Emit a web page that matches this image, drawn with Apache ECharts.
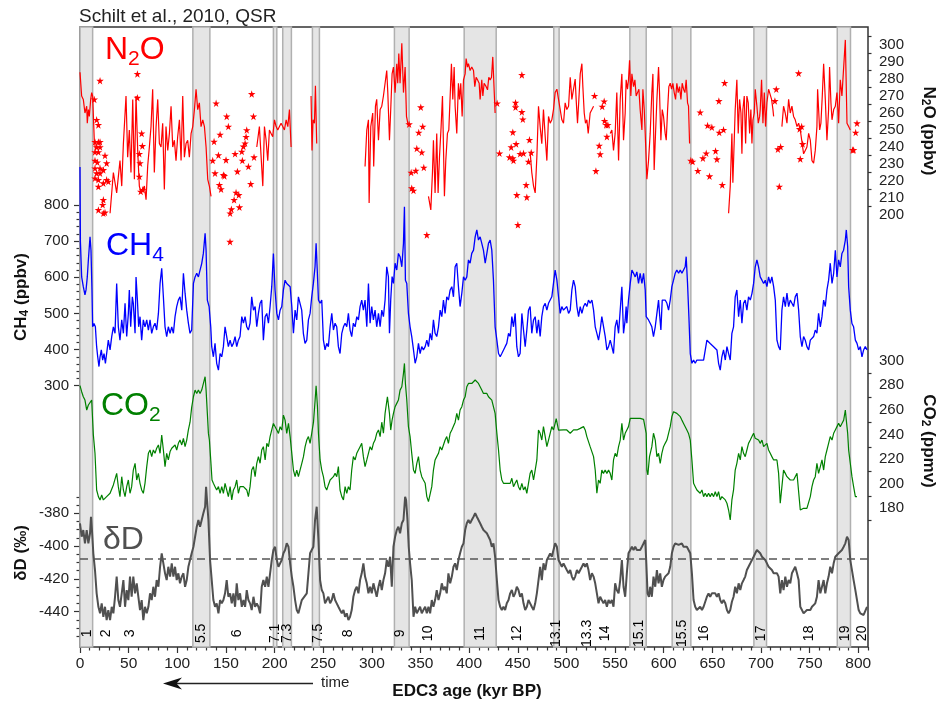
<!DOCTYPE html>
<html>
<head>
<meta charset="utf-8">
<script src="https://cdn.jsdelivr.net/npm/echarts@6.0.0/dist/echarts.min.js"></script>
<style>
  html, body { margin: 0; padding: 0; background: #fff; }
  #chart { width: 946px; height: 701px; }
</style>
</head>
<body>
<div id="chart"></div>
<script>
// ---------------- Data (age in kyr BP, value) ----------------
// N2O (ppbv) continuous sections
const n2oSeg1 = [[0,284],[1.7,270],[3.4,268],[5.1,260],[6.9,264],[7.5,254],[8.6,262],[9.6,258],[11,268],[12,272],[13,270],[14.7,244],[16.1,238]];
const n2oSeg2 = [[30.9,201],[34.3,225],[37.7,213],[41.1,232],[42.9,217],[44.6,242],[47.3,270],[49,234],[50.7,250],[52.4,225],[54.2,268],[55.9,221],[57.6,270],[59.3,238],[61,217],[62.7,213],[64.4,215],[66.2,217],[67.9,209],[69.6,229],[71.3,240],[73,252],[74.7,274],[76.4,225],[78.2,252],[79.9,268],[81.6,242],[83.3,240],[85,254],[86.7,215],[88.4,252],[90.2,238],[91.9,248],[93.6,264],[95.3,240],[97,244],[98.7,232],[100.4,246],[102.2,256],[103.9,232],[105.6,270],[107.3,234],[109,242],[110.7,244],[112.4,234],[114.2,248],[115.9,252],[117.6,262],[119.3,274],[121,262],[122.7,266],[124.4,252],[126.2,256],[127.9,252],[129.6,240],[131.3,221],[133,217],[134.7,211]];
const n2oSeg3 = [[181.7,240],[184.4,252],[187.9,217],[189.6,252],[191.3,244],[193,232],[194.7,250],[196.4,248],[198.1,246],[199.9,256],[201.6,252],[203.3,250],[205,252],[206.7,254],[208.4,252],[210.1,250],[211.9,256],[213.6,252],[215.3,262],[217,240]];
const n2oSeg4 = [[237.5,270],[238.5,238],[239.5,256],[241,254],[242,276],[243.3,242]];
const n2oSeg5 = [[293,228.5],[294.8,250],[296.5,256],[297.2,207],[298.9,252],[300.9,260],[301.9,228.5],[303.7,264],[305,268],[306.8,244],[308.5,262],[310.2,264],[311.9,270],[313.6,277.5],[315.3,285],[316.4,272],[318.1,244],[319.4,262],[320.8,283],[322.2,287],[323.9,272],[325.6,289],[326.6,277.5],[327.7,295],[329,277.5],[330.8,301],[332.5,272],[334.2,287],[335.6,258],[337.3,253],[338.6,254]];
const n2oSeg6 = [[358.2,211],[360.6,203],[362.3,225],[363.3,244],[365,213],[366.7,248],[368.1,213],[369.5,234],[371.2,252],[372.6,270],[374.6,211],[376,232],[377.7,248],[379.1,250],[380.5,270],[381.8,289],[383.2,268],[384.6,287],[385.6,264],[387.3,248],[389,277.5],[390.1,268],[391.4,277.5],[392.8,258],[394.2,279.5],[395.9,283],[396.9,292],[398.3,287],[399.3,289],[401,285],[402.7,287],[404.5,285],[405.8,275.5],[407.2,281],[408.6,279.5],[410.3,277.5],[411.3,268],[413,279.5],[414.1,270],[415.4,277.5],[417.5,275.5],[418.9,273.6],[420.2,281],[421.6,279.5],[423,281],[424.3,293],[425.7,273.6],[426.7,260]];
const n2oSeg7 = [[462.7,237],[464.4,225],[466.2,217],[467.9,213],[469.6,234],[471.3,264],[473,252],[474.7,242],[476.4,262],[478.2,246],[479.9,232],[481.6,258],[483.3,254],[485,256],[486.7,262],[488.4,272],[490.2,274],[491.9,268],[493.6,262],[495.3,256],[497,254],[498.7,266],[500.4,262],[502.2,264],[503.9,281],[505.6,268],[507.3,274],[509,280],[510,268],[511.4,254],[512.8,268],[514.2,283],[515.9,289],[516.9,275.5],[518.3,260],[519.6,254],[521,256],[522.4,248],[524.4,260],[526.2,262],[527.9,264]];
const n2oSeg8 = [[545,248],[546.7,250],[548.4,238],[550.1,248],[551.8,272],[553.6,232],[555.3,268],[557,283],[558.7,244],[560.4,260],[561.4,279.5],[562.8,274],[563.8,279.5],[564.9,291],[566.2,270],[567.3,283],[569,275.5],[570.4,279.5],[571.7,270],[573.1,272],[574.5,274],[575.8,262],[577.6,250],[578.6,274],[580,262],[581,248],[582.7,221],[584.4,232],[586.1,248],[587.8,272],[588.9,283],[590.2,226.5],[591.6,248],[593,268],[594.7,287],[595.7,272],[597.1,244],[598.5,262],[599.8,258],[601.5,248],[602.6,244],[604,262],[605.3,275.5],[606.7,277.5],[608.1,274],[609.4,277.5],[610.8,272],[612.2,268],[613.5,277.5],[614.9,272],[616.3,275.5],[617.7,268],[619,277.5],[620.4,274],[621.8,272],[623.1,279.5],[624.5,266],[625.5,264],[626.6,242]];
const n2oSeg9 = [[666.7,201],[668.4,217],[670.1,248],[671.1,219],[672.5,244],[673.5,262],[675.2,279.5],[676.6,248],[678,268],[679.4,260],[680.4,236],[681.4,262],[682.8,270],[684.2,242],[685.5,270],[686.9,266],[688.3,248],[689.6,262],[690.7,242],[691.7,256],[693.1,260],[694.1,274],[695.8,264],[697.2,254],[698.6,258],[699.2,262],[700.6,279.5],[702,254],[703.4,272],[704.7,252],[706.1,266],[707.8,274],[709.5,274],[710.9,268],[712.3,262],[713,258]];
const n2oSeg10 = [[721.5,252],[723.2,264],[724.9,260],[726.7,254],[728.4,268],[730.1,260],[731.8,264],[733.5,258],[735.2,256],[737,252],[738.7,254],[740.4,250],[742.1,250],[743.8,236],[745.5,238],[747.2,240],[749,248],[750.7,244],[752.4,232],[754.1,230.5],[755.8,238],[757.5,252],[758.2,274],[759.2,274],[760.3,250],[761.6,254],[763,270],[764.4,289],[766.1,268],[767.8,244],[769.5,262],[770.5,287],[771.9,266],[773,256],[774.7,262],[776.4,264],[778.1,272],[779.8,254],[781.5,279.5],[783.2,270],[785,270],[786.7,303],[788.4,254],[790.1,252],[791.8,250]];
const n2oSegments = [n2oSeg1, n2oSeg2, n2oSeg3, n2oSeg4, n2oSeg5, n2oSeg6, n2oSeg7, n2oSeg8, n2oSeg9, n2oSeg10];

// N2O (ppbv) samples flagged as artefacts
const n2oArtefacts = [[20.6,279],[59,283],[59,269],[14.7,268],[17.1,256],[18.9,253],[15.4,243],[18.9,243],[20.6,243],[17.1,240],[20.6,240],[15.4,237],[18.9,237],[25.7,235],[15.4,232],[17.8,231],[27.4,230.5],[15.4,227.5],[20.6,227.5],[24,226.5],[17.1,224.6],[20.6,224.6],[15.4,221.6],[18.9,220.7],[27.4,220.7],[24,218.7],[18.9,216.7],[29.1,219.7],[24,208.9],[18.9,203],[23.3,206],[25.7,201.5],[24,201],[63.4,248],[64.1,240.6],[61,236],[61.7,230.5],[61,222.6],[62.4,213.8],[64.4,214.8],[139.9,265.7],[150.8,258],[152.5,252],[144,247.3],[137.8,243.2],[142.3,235.2],[136.4,232],[150.1,232.4],[138.8,224.6],[147.4,223.6],[148.4,223],[143.3,217.7],[145,215.2],[159.4,236],[161.8,225.6],[166.9,232],[173.1,228.5],[175.5,218.3],[171.4,250],[170.7,246],[168,240.3],[169.7,242.2],[166.3,237.3],[176.5,271.2],[178.3,258],[178.9,234],[160.4,213.2],[163.2,211.8],[158.4,208.9],[163.9,204.6],[155.6,203.4],[154.3,201],[154.2,184.3],[350.3,263.4],[338.3,253.4],[352.3,252],[348.2,248.5],[346.2,239.1],[351.3,236.9],[353.4,227.9],[340.4,225],[345.2,226.1],[341,215.8],[342.8,214.4],[356.5,188.3],[454.2,282.4],[428.8,265.7],[447.7,266.1],[447.7,263.4],[454.2,260.6],[455.2,256.3],[444.9,248.7],[443.2,239.9],[448.3,241.8],[431.2,236.3],[441.5,234],[444.9,233.4],[445.6,232],[452.4,236],[455.9,236.3],[462,244.2],[463.8,236.7],[461,231.4],[458.6,217.7],[449,211.8],[459.3,210.5],[450.1,194.2],[528.9,270.1],[538.8,266.9],[536.8,263.8],[539.2,255.4],[540.9,253],[542.6,253],[541.6,246.1],[533.7,240.8],[534.7,235.8],[530.3,225.9],[637.5,260.4],[645.1,252.6],[649.5,251.6],[656.7,267.1],[662.6,277.7],[661.5,250.1],[657.1,248.5],[627.9,232],[629.7,231.4],[635.1,226],[640.3,233.4],[643.7,236.3],[647.1,222.8],[653.3,237.7],[654.7,232.8],[660.2,217.7],[715.7,274],[714.3,267.1],[717.4,238.7],[720.2,240.1],[718.8,216.7],[738.7,283.4],[741.8,252],[739.7,250.6],[742.8,241.8],[740.4,233],[797.3,248.5],[798.7,254],[794.2,238.3],[795.2,238.3]];

// CH4 (ppbv)
const ch4 = [[0,905],[0.4,700],[1.7,601],[3.4,574],[5.1,551],[6.2,565],[7.5,601],[8.6,648],[10.3,712],[11.3,675],[12.3,565],[13,463],[14.4,472],[15.8,463],[17.1,408],[18.2,380],[19.5,353],[20.6,380],[21.9,399],[23.3,371],[24.7,389],[26.1,362],[27.4,389],[29.1,426],[30.9,399],[32.6,436],[34.3,463],[36,445],[37.7,583],[39.4,463],[41.1,426],[42.9,482],[44.6,445],[46.3,528],[48,436],[49.7,500],[50.7,565],[52.1,463],[53.8,546],[54.8,528],[56.6,445],[57.6,601],[59,537],[60.3,463],[61.7,491],[63.4,426],[65.1,482],[66.8,463],[68.6,482],[70.3,454],[72,482],[73.7,445],[75.4,463],[77.1,473],[78.8,454],[80.6,500],[82.3,583],[84,625],[85.7,546],[87.4,463],[89.1,436],[90.8,463],[92.6,445],[94.3,463],[96,445],[97.7,491],[99.4,519],[101.1,537],[102.8,546],[104.6,509],[106.3,611],[108,556],[109.7,509],[111.4,473],[113.1,445],[114.8,454],[116.6,583],[118.3,601],[120,611],[121.7,601],[123.4,620],[125.1,638],[126.8,666],[128.6,722],[129.6,675],[130.9,537],[132.7,519],[134.4,463],[135.4,408],[137.1,380],[138.8,417],[140.5,362],[142.3,343],[144,389],[145.7,380],[147.4,408],[149.1,463],[150.8,436],[152.5,408],[154.3,426],[156,408],[157.7,417],[159.4,436],[161.1,408],[162.8,426],[164.5,436],[166.3,491],[168,473],[169.7,491],[171.4,463],[173.1,454],[174.8,473],[176.5,546],[178.3,509],[180,519],[181.7,463],[183.4,500],[185.1,528],[186.8,537],[188.5,426],[190.3,491],[192,500],[193.7,473],[195.4,519],[197.1,574],[198.8,666],[200.5,565],[202.3,500],[204,482],[205.7,509],[207.4,519],[209.1,565],[210.8,592],[212.5,583],[214.3,583],[216,574],[217.7,519],[219.4,445],[221.1,509],[222.8,482],[224.5,546],[226.2,551],[227.9,509],[229.6,445],[231.3,417],[233.1,426],[234.8,482],[236.5,500],[238.2,546],[239.9,583],[241.6,629],[242.7,694],[244,611],[245.1,537],[246.8,528],[248.5,537],[250.2,426],[251.9,399],[253.6,417],[255.3,408],[257.1,463],[258.8,500],[260.5,454],[262.2,473],[263.9,463],[265.6,408],[267.3,389],[269.1,445],[270.8,463],[272.5,473],[274.2,463],[275.9,500],[277.6,454],[279.3,436],[281,473],[282.8,463],[284.5,491],[286.2,482],[287.9,519],[289.6,537],[291.3,509],[293,537],[294.8,463],[296.5,583],[298.2,473],[299.9,519],[301.6,482],[303.3,509],[305,463],[306.8,500],[308.5,463],[310.2,509],[311.9,491],[313.6,537],[315.3,629],[317,602],[318.1,445],[319.4,537],[320.8,602],[322.2,583],[323.9,639],[325.6,620],[327.3,666],[329,657],[330.8,629],[332.5,694],[333.5,795],[334.5,592],[335.9,583],[337.6,500],[339.3,463],[341,436],[342.8,399],[344.5,362],[346.2,380],[347.9,417],[349.6,389],[351.3,408],[353,399],[354.8,408],[356.5,426],[358.2,408],[359.9,445],[361.6,426],[363.3,482],[365,445],[366.7,436],[368.5,463],[370.2,509],[371.9,491],[373.6,537],[375.3,500],[377,546],[378.7,537],[380.5,565],[382.2,574],[383.9,546],[385.6,629],[387.3,639],[389,574],[390.7,519],[392.5,556],[394.2,601],[395.9,592],[397.6,601],[399.3,648],[401,639],[402.7,666],[404.5,675],[406.2,712],[407.9,731],[409.6,703],[411.3,712],[413,694],[414.7,675],[416.5,639],[418.2,666],[419.9,694],[421.6,703],[423.3,675],[425,592],[426.7,463],[428.5,426],[430.2,389],[431.9,380],[433.6,389],[435.3,389],[437,408],[438.7,417],[440.5,445],[442.2,436],[443.9,491],[445.6,463],[447.3,500],[449,408],[450.7,380],[452.4,389],[454.2,500],[455.9,454],[457.6,408],[459.3,454],[461,509],[462.7,519],[464.4,445],[466.2,482],[467.9,491],[469.6,445],[471.3,482],[473,436],[474.7,491],[476.4,519],[478.2,528],[479.9,509],[481.6,528],[483.3,537],[485,546],[486.7,583],[488.4,620],[490.2,592],[491.9,546],[493.6,500],[495.3,519],[497,509],[498.7,509],[500.4,519],[502.2,500],[503.9,509],[505.6,565],[507.3,592],[509,574],[510.8,519],[512.5,491],[514.2,519],[515.9,500],[517.6,519],[519.3,528],[521,519],[522.7,537],[524.4,528],[526.2,537],[527.9,509],[529.6,463],[531.3,445],[533,426],[534.7,454],[536.4,491],[538.1,496],[539.9,436],[541.6,399],[543.3,408],[545,426],[546.7,408],[548.4,389],[550.1,463],[551.8,482],[553.6,445],[555.3,509],[557,574],[558.7,445],[560.4,482],[561.4,519],[562.1,473],[563.8,537],[565.6,583],[567.3,620],[569,611],[570.7,601],[572.4,615],[574.1,583],[575.8,611],[577.6,583],[579.3,611],[581,565],[582,491],[584.4,482],[586.1,473],[587.8,463],[589.5,436],[591.3,463],[593,500],[594.7,537],[595.7,500],[597.1,454],[598.5,537],[599.8,537],[601.5,537],[603.3,528],[605,509],[606.7,537],[608.4,574],[610.1,592],[611.8,611],[613.5,620],[615.3,611],[617,620],[618.7,611],[620.4,620],[622.1,629],[623.1,657],[624.5,583],[625.9,491],[627.3,389],[629,362],[630.7,371],[632.4,362],[634.1,371],[635.8,366],[637.5,371],[639.2,366],[641,371],[642.7,371],[644.4,426],[646.1,426],[647.8,417],[649.5,417],[651.3,408],[653,408],[654.7,399],[656.4,362],[658.1,343],[659.8,380],[661.5,399],[663.3,371],[665,408],[666.7,389],[668.4,371],[670.1,445],[671.8,463],[673.5,546],[675.2,565],[677,491],[678.7,537],[680.4,473],[682.1,528],[683.8,537],[685.5,509],[687.2,546],[689,537],[690.7,555],[692.4,583],[694.1,629],[695.8,648],[697.5,629],[699.2,601],[701,592],[702.7,583],[704.4,592],[706.1,574],[707.8,601],[709.5,583],[711.2,601],[713,574],[714.7,537],[716.4,426],[718.1,408],[719.8,399],[721.5,509],[723.2,546],[725,519],[726.7,556],[728.4,519],[730.1,537],[731.8,528],[733.5,519],[735.2,546],[737,556],[738.7,509],[740.4,436],[742.1,408],[743.8,436],[745.5,426],[747.2,408],[749,399],[750.7,426],[752.4,426],[754.1,436],[755.8,454],[757.5,445],[759.2,500],[761,463],[762.7,491],[764.4,537],[766.1,519],[767.8,565],[769.5,592],[771.2,639],[773,583],[774.7,611],[776.4,675],[778.1,601],[779.8,648],[781.5,629],[783.2,666],[784.9,675],[786.7,703],[787.7,731],[789.1,685],[790.1,574],[791.8,509],[793.5,472],[795.2,463],[797,426],[798.7,417],[800.4,399],[802.1,408],[803.8,380],[805.5,399],[807.2,408],[809,399]];

// CO2 (ppmv)
const co2 = [[0,279.7],[1.7,274.8],[3.4,270.7],[5.1,268],[6.9,259.9],[8.6,264],[10.3,262.6],[12,268],[13.7,240],[15.4,224.7],[17.1,194.9],[18.9,189.5],[20.6,186.8],[22.3,190.8],[24,186.8],[27.4,189.5],[30.9,192.2],[34.3,199],[37.7,208.4],[39.4,197.6],[41.1,189.5],[42.9,205.7],[44.6,194.9],[46.3,189.5],[48,197.6],[49.7,203],[51.4,192.2],[53.1,197.6],[54.8,211.1],[56.6,216.6],[58.3,203],[60,208.4],[61.7,200.3],[63.4,194.9],[65.1,192.2],[66.8,200.3],[68.6,213.9],[70.3,224.7],[72,227.4],[73.7,222],[75.4,227.4],[77.1,224.7],[78.8,228.8],[80.6,231.5],[82.3,224.7],[84,239.6],[85.7,227.4],[87.4,213.9],[89.1,224.7],[90.8,219.3],[92.6,226.1],[94.3,228.8],[96,230.1],[97.7,231.5],[99.4,227.4],[101.1,232.8],[102.8,235.5],[104.6,231.5],[106.3,236.9],[108,230.1],[109.7,235.5],[111.4,243.7],[113.1,250],[114.8,262],[116.6,270.7],[118.3,276.1],[120,273.4],[121.7,276.1],[123.4,273.4],[125.1,276.1],[126.8,277.5],[128.6,287],[129.6,276.1],[130.9,257.2],[132,240.9],[133,235.5],[134.4,219.3],[135.7,203],[137.1,200.3],[138.8,197.6],[140.5,194.9],[142.3,197.6],[144,192.2],[145.7,197.6],[147.4,192.2],[149.1,200.3],[150.8,194.9],[152.5,189.5],[154.3,197.6],[156,186.8],[157.7,194.9],[159.4,197.6],[161.1,203],[162.8,192.2],[164.5,197.6],[168,197.6],[171.4,194.9],[173.1,189.5],[174.8,197.6],[176.5,211.1],[178.3,213.9],[180,205.7],[181.7,216.6],[183.4,222],[185.1,216.6],[186.8,227.4],[188.5,230.1],[190.3,219.3],[192,232.8],[193.7,230.1],[195.4,238.3],[197.1,243.7],[198.8,249],[200.5,250.4],[202.3,243.6],[204,240.9],[205.7,246.3],[207.4,243.6],[209.1,255.8],[210.8,251.7],[212.5,240.9],[214.3,249],[216,238.3],[217.7,224.7],[219.4,211.1],[221.1,205.7],[222.8,211.1],[224.5,205.7],[226.2,211.1],[228,216.6],[229.7,222],[231.4,230.1],[233.1,235.5],[234.8,238.3],[236.5,232.8],[238.2,241],[240,250],[241.7,268],[242.7,279.7],[244.1,262.6],[245.1,241],[246.8,219.3],[248.5,211.1],[250.2,205.7],[251.9,197.6],[253.6,194.9],[255.3,199],[257.1,203],[258.8,201.7],[260.5,205.7],[262.2,208.4],[263.9,205.7],[265.6,213.9],[267.3,194.9],[269.1,189.5],[270.8,186.8],[272.5,197.6],[274.2,192.2],[275.9,197.6],[277.6,194.9],[279.3,211.1],[281,222],[282.8,219.3],[284.5,224.7],[286.2,227.4],[287.9,230.1],[289.6,232.8],[291.3,222],[293,213.9],[294.8,219.3],[296.5,224.7],[298.2,230.1],[299.9,227.4],[301.6,232.8],[303.3,235.5],[305,241],[306.8,243.7],[308.5,238.3],[310.2,250],[311.9,241],[313.6,257.2],[316,270.7],[318.1,257.2],[319.4,243.6],[320.8,251.7],[322.2,257.2],[323.9,262.6],[325.6,265.3],[327.3,268],[329,276.1],[330.8,278.8],[332.5,289.7],[333.5,297.8],[334.5,281.5],[335.9,268],[337.6,246.3],[339.3,238.3],[341,224.7],[342.8,211.1],[344.5,208.4],[346.2,216.6],[347.9,222],[349.6,211.1],[351.3,205.7],[353,203],[354.8,200.3],[356.5,189.5],[358.2,185.4],[359.9,186.8],[361.6,197.6],[363.3,211.1],[365,219.3],[366.7,222],[368.5,224.7],[370.2,230.1],[371.9,227.4],[373.6,231.5],[375.3,235.5],[377,238.3],[378.7,232.8],[380.5,241],[382.2,243.7],[383.9,245],[385.6,250],[387.3,257.2],[389,251.7],[390.7,259.9],[392.5,262.6],[394.2,268],[395.9,270.7],[397.6,278.8],[399.3,281.5],[401,282.9],[402.7,281.5],[404.5,282.9],[406.2,284.3],[407.9,284.3],[409.6,281.5],[411.3,278.8],[413,276.1],[414.7,273.4],[416.5,274.8],[418.2,273.4],[419.9,270.7],[421.6,270.7],[423.3,268],[425,268],[426.7,257.2],[428.5,240.9],[430.2,227.4],[431.9,211.1],[433.6,203],[435.3,200.3],[437,201.7],[438.7,200.3],[440.5,201.7],[442.2,200.3],[443.9,204.4],[445.6,197.6],[447.3,200.3],[449,203],[450.7,197.6],[452.4,194.9],[454.2,200.3],[455.9,194.9],[457.6,197.6],[459.3,192.2],[461,200.3],[462.7,208.4],[464.4,211.1],[466.2,203],[467.9,211.1],[469.6,219.3],[471.3,243.7],[473,241],[474.7,235.5],[476.4,246.4],[478.2,238.3],[479.9,230.1],[481.6,235.5],[483.3,241],[485,246.4],[486.7,243.7],[488.4,249.1],[489.5,253],[491.9,243.6],[493.6,243],[497,243.7],[500.4,243.7],[503.9,241],[507.3,243.7],[510.8,243.7],[514.2,245],[515.9,246.4],[517.6,246.4],[519.3,243.7],[521,238.3],[524.4,230.1],[527.9,222],[529.6,211.1],[531.3,192.2],[533,203],[534.7,200.3],[536.4,211.1],[538.1,208.4],[539.8,211.1],[541.6,208.4],[543.3,211.1],[545,208.4],[546.7,203],[548.4,219.3],[550.1,224.7],[551.8,222],[553.6,230.1],[555.3,235.5],[557,249.1],[558.7,235.5],[560.4,241],[562.1,243.7],[563.8,246.4],[565.6,253.1],[567.3,254.5],[569,253.1],[570.7,251.7],[572.4,253.1],[574.1,251.7],[575.8,253.1],[577.6,251.7],[579.3,252.3],[581,251.7],[582,240.9],[582.7,211.1],[583.7,207.1],[585.4,222],[587.8,230.1],[589.5,241],[591.3,235.5],[593,222],[594.7,224.7],[596.4,216.6],[598.1,224.7],[599.8,230.1],[601.5,232.8],[603.3,235.5],[605,241],[606.7,246.4],[608.4,254.5],[610.1,258.5],[611.8,258.5],[613.5,257.2],[615.3,255.8],[617,254.5],[618.7,251.7],[620.4,249],[622.1,246.3],[623.8,243.6],[625.5,240.9],[627.3,235.5],[629,219.3],[630.7,200.3],[632.4,197.6],[634.1,194.9],[635.8,193.5],[637.5,192.2],[639.3,194.9],[641,189.5],[642.7,192.2],[644.4,189.5],[646.1,192.2],[647.8,189.5],[649.5,192.2],[651.3,189.5],[653,193.5],[654.7,189.5],[656.4,193.5],[658.1,186.8],[659.8,189.5],[661.5,188.1],[663.3,186.8],[665,184.1],[666.7,178.6],[668.4,170.5],[670.1,186.8],[671.8,194.9],[673.5,211.1],[675.2,216.6],[677,224.7],[678.7,219.3],[680.4,230.1],[682.1,224.7],[683.8,222],[685.5,227.4],[687.2,232.8],[689,235.5],[690.7,238.3],[692.4,241],[694.1,236.9],[695.8,238.3],[697.5,235.5],[699.2,232.8],[701,235.5],[702.7,230.1],[704.4,231.5],[706.1,232.8],[707.8,227.4],[709.5,224.7],[711.2,222],[713,219.3],[714.7,220.6],[716.4,219.3],[718.1,208.4],[719.8,184.1],[721.5,197.6],[723.2,211.1],[725,208.4],[726.7,205.7],[728.4,204.4],[730.1,203],[731.8,204.4],[733.5,203],[735.2,205.7],[737,208.4],[738.7,209.8],[740.4,178.6],[742.1,177.3],[743.8,180],[745.5,180],[747.2,180],[749,181.3],[750.7,189.5],[752.4,197.6],[754.1,203],[755.8,205.7],[757.5,216.6],[759.2,208.4],[761,213.9],[762.7,219.3],[764.4,211.1],[766.1,222],[767.8,227.4],[769.5,232.8],[771.2,238.3],[773,235.5],[774.7,241],[776.4,243.7],[778.1,246.4],[779.8,249.1],[781.5,246.3],[783.2,249],[785,251.7],[786.7,259.9],[787.7,251.7],[789.1,240.9],[790.1,227.4],[791.8,216.6],[793.5,205.7],[795.2,197.6],[797,189.5],[798.7,189.5]];

// deltaD (permil)
const deltaD = [[0,-386.1],[1.7,-394.3],[3.4,-390.2],[5.1,-398.3],[6.9,-390.2],[8.6,-398.3],[10.3,-392.2],[11.3,-382.1],[12.3,-390.2],[13.7,-404.4],[15.4,-414.6],[17.1,-428.8],[18.9,-437],[20.6,-441],[22.3,-434.9],[24,-443.1],[25.7,-437],[27.4,-445.1],[29.1,-439],[30.9,-445.1],[32.6,-437],[34.3,-441],[36,-430.9],[37.7,-418.6],[39.4,-432.9],[41.1,-437],[42.9,-428.8],[44.6,-420.7],[46.3,-437],[48,-426.8],[49.7,-432.9],[51.4,-418.6],[53.1,-430.9],[54.8,-418.6],[56.6,-428.8],[58.3,-422.7],[60,-430.9],[61.7,-439],[63.4,-432.9],[65.1,-445.1],[66.8,-437],[68.6,-441],[70.3,-437],[72,-428.8],[73.7,-432.9],[75.4,-424.8],[77.1,-430.9],[78.8,-420.7],[80.6,-424.8],[82.3,-412.6],[84,-404.4],[85.7,-410.5],[87.4,-416.6],[89.1,-420.7],[90.8,-412.6],[92.6,-418.6],[94.3,-410.5],[96,-418.6],[97.7,-412.6],[99.4,-420.7],[101.1,-416.6],[102.8,-422.7],[104.6,-418.6],[106.3,-416.6],[108,-424.8],[109.7,-420.7],[111.4,-412.6],[113.1,-408.5],[114.8,-404.4],[116.6,-400.4],[118.3,-394.3],[120,-388.2],[121.7,-384.1],[123.4,-388.2],[125.1,-384.1],[126.8,-380],[128.6,-376],[129.6,-363.8],[130.3,-369.9],[132,-384.1],[133.7,-408.5],[135.4,-420.7],[137.1,-432.9],[138.8,-437],[140.5,-434.9],[142.3,-441],[144,-432.9],[145.7,-434.9],[147.4,-432.9],[149.1,-428.8],[150.8,-420.7],[152.5,-430.9],[154.3,-428.8],[156,-434.9],[157.7,-428.8],[159.4,-437],[161.1,-422.7],[162.8,-432.9],[164.5,-428.8],[166.3,-437],[168,-432.9],[169.7,-437],[171.4,-426.8],[173.1,-432.9],[174.8,-434.9],[176.5,-439],[178.3,-430.9],[180,-437],[181.7,-434.9],[183.4,-437],[185.1,-441],[186.8,-424.8],[188.5,-420.7],[190.3,-424.8],[192,-418.6],[193.7,-424.8],[195.4,-416.6],[197.1,-408.5],[198.8,-402.4],[200.5,-400.4],[202.3,-408.5],[204,-412.6],[205.7,-410.5],[207.4,-408.5],[209.1,-404.4],[210.8,-402.4],[212.5,-398.3],[214.3,-400.4],[216,-410.5],[217.7,-418.6],[219.4,-424.8],[221.1,-432.9],[222.8,-439],[224.5,-441],[226.2,-437],[228,-432.9],[233.1,-428.8],[236.5,-404.4],[239.9,-400.4],[241.6,-384.1],[243.3,-376],[245.1,-396.3],[246.8,-420.7],[248.5,-426.8],[250.2,-428.8],[251.9,-434.9],[253.6,-432.9],[255.3,-430.9],[257.1,-434.9],[258.8,-432.9],[260.5,-428.8],[262.2,-432.9],[263.9,-434.9],[265.6,-437],[267.3,-439],[269.1,-441],[270.8,-439],[272.5,-443.1],[274.2,-441],[275.9,-445.1],[277.6,-443.1],[279.3,-439],[281,-430.9],[282.8,-426.8],[284.5,-424.8],[286.2,-428.8],[287.9,-420.7],[289.6,-416.6],[291.3,-410.5],[293,-418.6],[294.8,-422.7],[296.5,-428.8],[298.2,-424.8],[299.9,-428.8],[301.6,-422.7],[303.3,-426.8],[305,-430.9],[306.8,-424.8],[308.5,-420.7],[310.2,-426.8],[311.9,-420.7],[313.6,-416.6],[315.3,-408.5],[317,-412.6],[318.8,-406.5],[320.5,-424.8],[322.2,-400.4],[323.9,-394.3],[325.6,-390.2],[327.3,-388.2],[329,-392.2],[330.8,-386.1],[332.5,-384.1],[334.2,-369.9],[335.2,-371.9],[336.6,-384.1],[337.9,-400.4],[339.3,-410.5],[341,-420.7],[342.8,-443.1],[344.5,-437],[346.2,-441],[347.9,-439],[349.6,-437],[351.3,-441],[353,-439],[354.8,-437],[356.5,-441],[358.2,-437],[359.9,-441],[361.6,-432.9],[363.3,-437],[365,-432.9],[366.7,-426.8],[368.5,-432.9],[370.2,-428.8],[371.9,-422.7],[373.6,-426.8],[375.3,-424.8],[377,-428.8],[378.7,-416.6],[380.5,-422.7],[382.2,-418.6],[383.9,-412.6],[385.6,-410.5],[387.3,-414.6],[389,-408.5],[390.7,-404.4],[392.5,-400.4],[394.2,-398.3],[395.9,-390.2],[397.6,-386.1],[399.3,-384.1],[401,-386.1],[402.7,-384.1],[404.5,-382.1],[406.2,-380],[407.9,-382.1],[409.6,-384.1],[411.3,-386.1],[413,-388.2],[414.7,-390.2],[416.5,-390.2],[418.2,-392.2],[419.9,-392.2],[421.6,-396.3],[423.3,-400.4],[425,-398.3],[426.7,-406.5],[428.5,-420.7],[430.2,-432.9],[431.9,-437],[433.6,-439],[435.3,-437],[437,-439],[438.7,-434.9],[440.5,-432.9],[442.2,-428.8],[443.9,-426.8],[445.6,-430.9],[447.3,-428.8],[449,-424.8],[450.7,-426.8],[452.4,-430.9],[454.2,-428.8],[455.9,-434.9],[457.6,-439],[459.3,-437],[461,-432.9],[462.7,-434.9],[464.4,-437],[466.2,-439],[467.9,-434.9],[469.6,-428.8],[471.3,-420.7],[473,-412.6],[474.7,-420.7],[476.4,-410.5],[478.2,-414.6],[479.9,-408.5],[481.6,-406.5],[483.3,-404.4],[485,-406.5],[486.7,-402.4],[488.4,-398.3],[490.2,-400.4],[491.9,-408.5],[493.6,-410.5],[495.3,-412.6],[497,-410.5],[498.7,-412.6],[500.4,-414.6],[502.2,-416.6],[503.9,-414.6],[505.6,-418.6],[507.3,-420.7],[509,-418.6],[510.8,-414.6],[512.5,-416.6],[514.2,-414.6],[515.9,-412.6],[517.6,-410.5],[519.3,-412.6],[521,-410.5],[522.7,-414.6],[524.4,-420.7],[526.2,-416.6],[527.9,-418.6],[529.6,-422.7],[531.3,-428.8],[533,-434.9],[534.7,-430.9],[538.1,-434.9],[539.8,-432.9],[541.6,-437],[543.3,-432.9],[545,-434.9],[546.7,-432.9],[548.4,-437],[550.1,-422.7],[551.8,-426.8],[553.6,-428.8],[555.3,-420.7],[557,-408.5],[558.7,-424.8],[560.4,-430.9],[562.1,-416.6],[563.8,-404.4],[565.6,-402.4],[567.3,-400.4],[569,-402.4],[570.7,-400.4],[572.4,-402.4],[574.1,-401.4],[575.8,-402.4],[577.6,-400.4],[579.3,-398.3],[581,-396.3],[582,-408.5],[583.4,-428.8],[584.8,-430.9],[586.1,-424.8],[587.8,-430.9],[589.5,-418.6],[591.3,-424.8],[593,-414.6],[594.7,-422.7],[596.4,-416.6],[598.1,-424.8],[599.8,-420.7],[601.5,-418.6],[603.3,-418.6],[605,-416.6],[606.7,-412.6],[608.4,-404.4],[610.1,-400.4],[611.8,-398.3],[613.5,-397.3],[615.3,-399.3],[617,-400.4],[618.7,-398.3],[620.4,-400.4],[622.1,-401.4],[623.8,-400.4],[625.5,-401.4],[627.3,-404.4],[629,-416.6],[630.7,-432.9],[632.4,-437],[634.1,-439],[635.8,-439],[637.5,-437],[639.3,-439],[641,-437],[642.7,-437],[644.4,-430.9],[646.1,-428.8],[647.8,-430.9],[649.5,-428.8],[651.3,-429.8],[653,-428.8],[654.7,-430.9],[656.4,-428.8],[658.1,-432.9],[659.8,-434.9],[661.5,-432.9],[663.3,-434.9],[665,-439],[666.7,-441],[668.4,-439],[670.1,-433.9],[671.8,-430.9],[673.5,-424.8],[675.2,-428.8],[677,-422.7],[678.7,-426.8],[680.4,-422.7],[682.1,-420.7],[683.8,-418.6],[685.5,-414.6],[687.2,-412.6],[689,-410.5],[690.7,-408.5],[692.4,-406.5],[694.1,-404.4],[695.8,-402.4],[697.5,-403.4],[699.2,-404.4],[701,-406.5],[702.7,-405.4],[704.4,-408.5],[706.1,-410.5],[707.8,-412.6],[709.5,-412.6],[711.2,-414.6],[713,-416.6],[714.7,-415.6],[716.4,-416.6],[718.1,-418.6],[719.8,-428.8],[721.5,-420.7],[723.2,-426.8],[725,-418.6],[726.7,-424.8],[728.4,-420.7],[730.1,-422.7],[731.8,-416.6],[733.5,-414.6],[735.2,-412.6],[737,-416.6],[738.7,-420.7],[740.4,-437],[742.1,-439],[743.8,-441],[745.5,-440],[747.2,-439],[749,-440],[750.7,-439],[752.4,-437],[754.1,-437],[755.8,-434.9],[757.5,-430.9],[759.2,-420.7],[761,-428.8],[762.7,-424.8],[764.4,-420.7],[766.1,-428.8],[767.8,-422.7],[769.5,-418.6],[771.2,-412.6],[773,-416.6],[774.7,-410.5],[776.4,-406.5],[778.1,-406.5],[779.8,-404.4],[781.5,-404.4],[783.2,-402.4],[785,-400.4],[786.7,-398.3],[788.4,-394.3],[790.1,-396.3],[791.8,-408.5],[793.5,-414.6],[795.2,-420.7],[797,-426.8],[798.7,-432.9],[800.4,-439],[802.1,-441],[803.8,-440],[805.5,-442],[807.2,-441],[809,-437]];

// Interglacial intervals (kyr BP) and marine isotope stage labels
const interglacials = [[0,13],[116,133.5],[198.8,202.3],[208.4,217.3],[238.9,246.1],[323.2,338.3],[394.9,427.8],[487,492.5],[565.2,582],[608.7,627.9],[692.7,705.7],[778.4,792]];
const stageNames = ['1','2','3','5.5','6','7.1','7.3','7.5','8','9','10','11','12','13.1','13.3','14','15.1','15.5','16','17','18','19','20'];
const stageAges = [7.5,26.7,51.4,125,161.7,200.8,213.2,245,276,329,358,411,449,489.5,521,539.5,575,618.7,641.6,700.3,750,786.6,803.8];
const deltaDReference = -408;

// Axis ticks and labels
const ageTicks = [0,50,100,150,200,250,300,350,400,450,500,550,600,650,700,750,800];
const n2oTicks = [200,210,220,230,240,250,260,270,280,290,300];
const ch4Ticks = [300,400,500,600,700,800];
const co2Ticks = [180,200,220,240,260,280,300];
const deltaDTicks = [-440,-420,-400,-380];

// ---------------- Helpers ----------------
const FONT = '"Liberation Sans", Arial, sans-serif';
function stepList(from, to, step, skip) {
  const out = [];
  for (let v = from; v <= to + 1e-9; v += step) {
    const r = Math.round(v * 100) / 100;
    if (!skip.includes(r)) out.push(r);
  }
  return out;
}
const ageMinor = stepList(0, 810, 10, ageTicks);
const n2oMinor = stepList(205, 305, 10, n2oTicks);
const ch4Minor = stepList(300, 800, 20, ch4Ticks);
const co2Minor = stepList(170, 290, 20, co2Ticks);
const deltaDMinor = stepList(-455, -370, 5, deltaDTicks);

const measureCtx = document.createElement('canvas').getContext('2d');
function textWidth(t, size, weight) {
  measureCtx.font = (weight || 'normal') + ' ' + size + 'px ' + FONT;
  return measureCtx.measureText(t).width;
}
// Text with subscript parts, laid out horizontally inside a (possibly rotated) group
function subscriptText(parts, o) {
  const widths = parts.map(p => textWidth(p[0], p[1] ? o.sub : o.size, o.weight));
  const total = widths.reduce((a, b) => a + b, 0);
  let x = o.center ? -total / 2 : 0;
  const children = parts.map((p, i) => {
    const el = {
      type: 'text', x: x, y: p[1] ? o.subDy : 0,
      style: {
        text: p[0], fill: o.color, fontFamily: FONT,
        fontSize: p[1] ? o.sub : o.size, fontWeight: o.weight || 'normal',
        align: 'left', verticalAlign: 'middle'
      }
    };
    x += widths[i];
    return el;
  });
  return { type: 'group', x: o.x, y: o.y, rotation: o.rotation || 0, children: children, z: 20 };
}

const tickLine = { color: '#333', width: 1.2 };
function yAxisPair(gridIndex, min, max, position, major, minor) {
  const base = {
    type: 'value', gridIndex: gridIndex, min: min, max: max, position: position,
    axisLine: { show: false }, splitLine: { show: false }
  };
  return [
    Object.assign({}, base, {
      axisTick: { show: true, customValues: major, length: 6, lineStyle: tickLine },
      axisLabel: { show: true, customValues: major, fontSize: 15, color: '#222', fontFamily: FONT, margin: 11 }
    }),
    Object.assign({}, base, {
      axisTick: { show: true, customValues: minor, length: 3.5, lineStyle: tickLine },
      axisLabel: { show: false }
    })
  ];
}

const GL = 80, GW = 788;
const grids = [
  { left: GL, width: GW, top: 27, height: 620, show: true, borderColor: '#333', borderWidth: 1.5, backgroundColor: 'transparent', outerBoundsMode: 'none' },
  { left: GL, width: GW, top: 28, height: 221, outerBoundsMode: 'none' },       // N2O 180..310
  { left: GL, width: GW, top: 205, height: 180.7, outerBoundsMode: 'none' },    // CH4 300..800
  { left: GL, width: GW, top: 348.4, height: 184.5, outerBoundsMode: 'none' },  // CO2 160..310
  { left: GL, width: GW, top: 480.5, height: 164, outerBoundsMode: 'none' }     // dD -460..-360
];

const xAxes = [
  {
    type: 'value', gridIndex: 0, min: 0, max: 810, position: 'bottom',
    axisLine: { show: false }, splitLine: { show: false },
    axisTick: { show: true, customValues: ageTicks, length: 6, lineStyle: tickLine },
    axisLabel: { customValues: ageTicks, fontSize: 15.5, color: '#222', fontFamily: FONT, margin: 9 }
  },
  {
    type: 'value', gridIndex: 0, min: 0, max: 810, position: 'bottom',
    axisLine: { show: false }, splitLine: { show: false },
    axisTick: { show: true, customValues: ageMinor, length: 3.5, lineStyle: tickLine },
    axisLabel: { show: false }
  }
];
for (let g = 1; g <= 4; g++) xAxes.push({ type: 'value', gridIndex: g, min: 0, max: 810, show: false });

const yAxes = [{ type: 'value', gridIndex: 0, min: 0, max: 1, show: false }]
  .concat(yAxisPair(1, 180, 310, 'right', n2oTicks, n2oMinor))      // 1,2
  .concat(yAxisPair(2, 300, 800, 'left', ch4Ticks, ch4Minor))       // 3,4
  .concat(yAxisPair(3, 160, 310, 'right', co2Ticks, co2Minor))      // 5,6
  .concat(yAxisPair(4, -460, -360, 'left', deltaDTicks, deltaDMinor)); // 7,8

const STAR = 'path://M50,0 L61,35 L98,35 L68,57 L79,91 L50,70 L21,91 L32,57 L2,35 L39,35 Z';

const series = [];
// Interglacial shading
series.push({
  type: 'line', xAxisIndex: 0, yAxisIndex: 0, data: [], z: 1, silent: true,
  markArea: {
    silent: true,
    itemStyle: { color: '#e5e5e5', borderColor: '#b0b0b0', borderWidth: 1.5 },
    data: interglacials.map(b => [{ xAxis: b[0] }, { xAxis: b[1] }])
  }
});
// Stage numbers
series.push({
  type: 'scatter', xAxisIndex: 0, yAxisIndex: 0, z: 6, silent: true,
  symbolSize: 0, itemStyle: { opacity: 1 },
  data: stageAges.map((a, i) => ({ value: [a, 0.022], name: stageNames[i] })),
  label: {
    show: true, position: 'inside', formatter: p => p.name, rotate: 90,
    align: 'center', verticalAlign: 'middle', opacity: 1,
    fontSize: 14, color: '#000', fontFamily: FONT, textBorderWidth: 0
  }
});
// N2O
n2oSegments.forEach(seg => series.push({
  type: 'line', xAxisIndex: 2, yAxisIndex: 1, data: seg, showSymbol: false, symbol: 'none',
  clip: false, z: 3, lineStyle: { color: '#ff0000', width: 1.2 }
}));
series.push({
  type: 'scatter', xAxisIndex: 2, yAxisIndex: 1, data: n2oArtefacts, clip: false, z: 3,
  symbol: STAR, symbolSize: 7.5, itemStyle: { color: '#ff0000', opacity: 1 }
});
// CH4
series.push({
  type: 'line', xAxisIndex: 3, yAxisIndex: 3, data: ch4, symbol: 'none', clip: false, z: 3,
  lineStyle: { color: '#0000ff', width: 1.3 }
});
// CO2
series.push({
  type: 'line', xAxisIndex: 4, yAxisIndex: 5, data: co2, symbol: 'none', clip: false, z: 3,
  lineStyle: { color: '#008000', width: 1.2 }
});
// deltaD with glacial/interglacial threshold
series.push({
  type: 'line', xAxisIndex: 5, yAxisIndex: 7, data: deltaD, symbol: 'none', clip: false, z: 3,
  lineStyle: { color: '#505050', width: 2 },
  markLine: {
    silent: true, symbol: 'none', label: { show: false },
    lineStyle: { color: '#555', width: 1.5, type: [8, 5] },
    data: [{ yAxis: deltaDReference }]
  }
});

const graphics = [
  { type: 'text', x: 79, y: 17, z: 20, style: { text: 'Schilt et al., 2010, QSR', fill: '#222', fontSize: 19, fontFamily: FONT, align: 'left', verticalAlign: 'middle' } },
  subscriptText([['N', 0], ['2', 1], ['O', 0]], { x: 105, y: 50, size: 32, sub: 21, subDy: 9, color: '#ff0000' }),
  subscriptText([['CH', 0], ['4', 1]], { x: 106, y: 246, size: 32, sub: 21, subDy: 9, color: '#0000ff' }),
  subscriptText([['CO', 0], ['2', 1]], { x: 101, y: 406, size: 32, sub: 21, subDy: 9, color: '#008000' }),
  subscriptText([['δD', 0]], { x: 103, y: 540, size: 32, sub: 21, subDy: 9, color: '#505050' }),
  subscriptText([['CH', 0], ['4', 1], [' (ppbv)', 0]], { x: 21, y: 297, size: 17, sub: 12, subDy: 4, weight: 'bold', color: '#111', center: true, rotation: Math.PI / 2 }),
  subscriptText([['δD (‰)', 0]], { x: 21, y: 553, size: 17, sub: 12, subDy: 4, weight: 'bold', color: '#111', center: true, rotation: Math.PI / 2 }),
  subscriptText([['N', 0], ['2', 1], ['O (ppbv)', 0]], { x: 929, y: 131, size: 17, sub: 12, subDy: 4, weight: 'bold', color: '#111', center: true, rotation: -Math.PI / 2 }),
  subscriptText([['CO', 0], ['2', 1], [' (ppmv)', 0]], { x: 929, y: 441, size: 17, sub: 12, subDy: 4, weight: 'bold', color: '#111', center: true, rotation: -Math.PI / 2 }),
  { type: 'text', x: 467, y: 691, z: 20, style: { text: 'EDC3 age (kyr BP)', fill: '#111', fontSize: 17, fontWeight: 'bold', fontFamily: FONT, align: 'center', verticalAlign: 'middle' } },
  // time arrow
  { type: 'line', z: 20, shape: { x1: 313, y1: 683.5, x2: 174, y2: 683.5 }, style: { stroke: '#222', lineWidth: 1.3 } },
  { type: 'polygon', z: 20, shape: { points: [[163, 683.5], [182, 677.5], [176.5, 683.5], [182, 689.5]] }, style: { fill: '#111' } },
  { type: 'text', x: 321, y: 683, z: 20, style: { text: 'time', fill: '#222', fontSize: 15, fontFamily: FONT, align: 'left', verticalAlign: 'middle' } }
];

const chart = echarts.init(document.getElementById('chart'), null, { renderer: 'canvas' });
chart.setOption({
  animation: false,
  backgroundColor: '#fff',
  textStyle: { fontFamily: FONT },
  grid: grids,
  xAxis: xAxes,
  yAxis: yAxes,
  series: series,
  graphic: graphics
});
</script>
</body>
</html>
